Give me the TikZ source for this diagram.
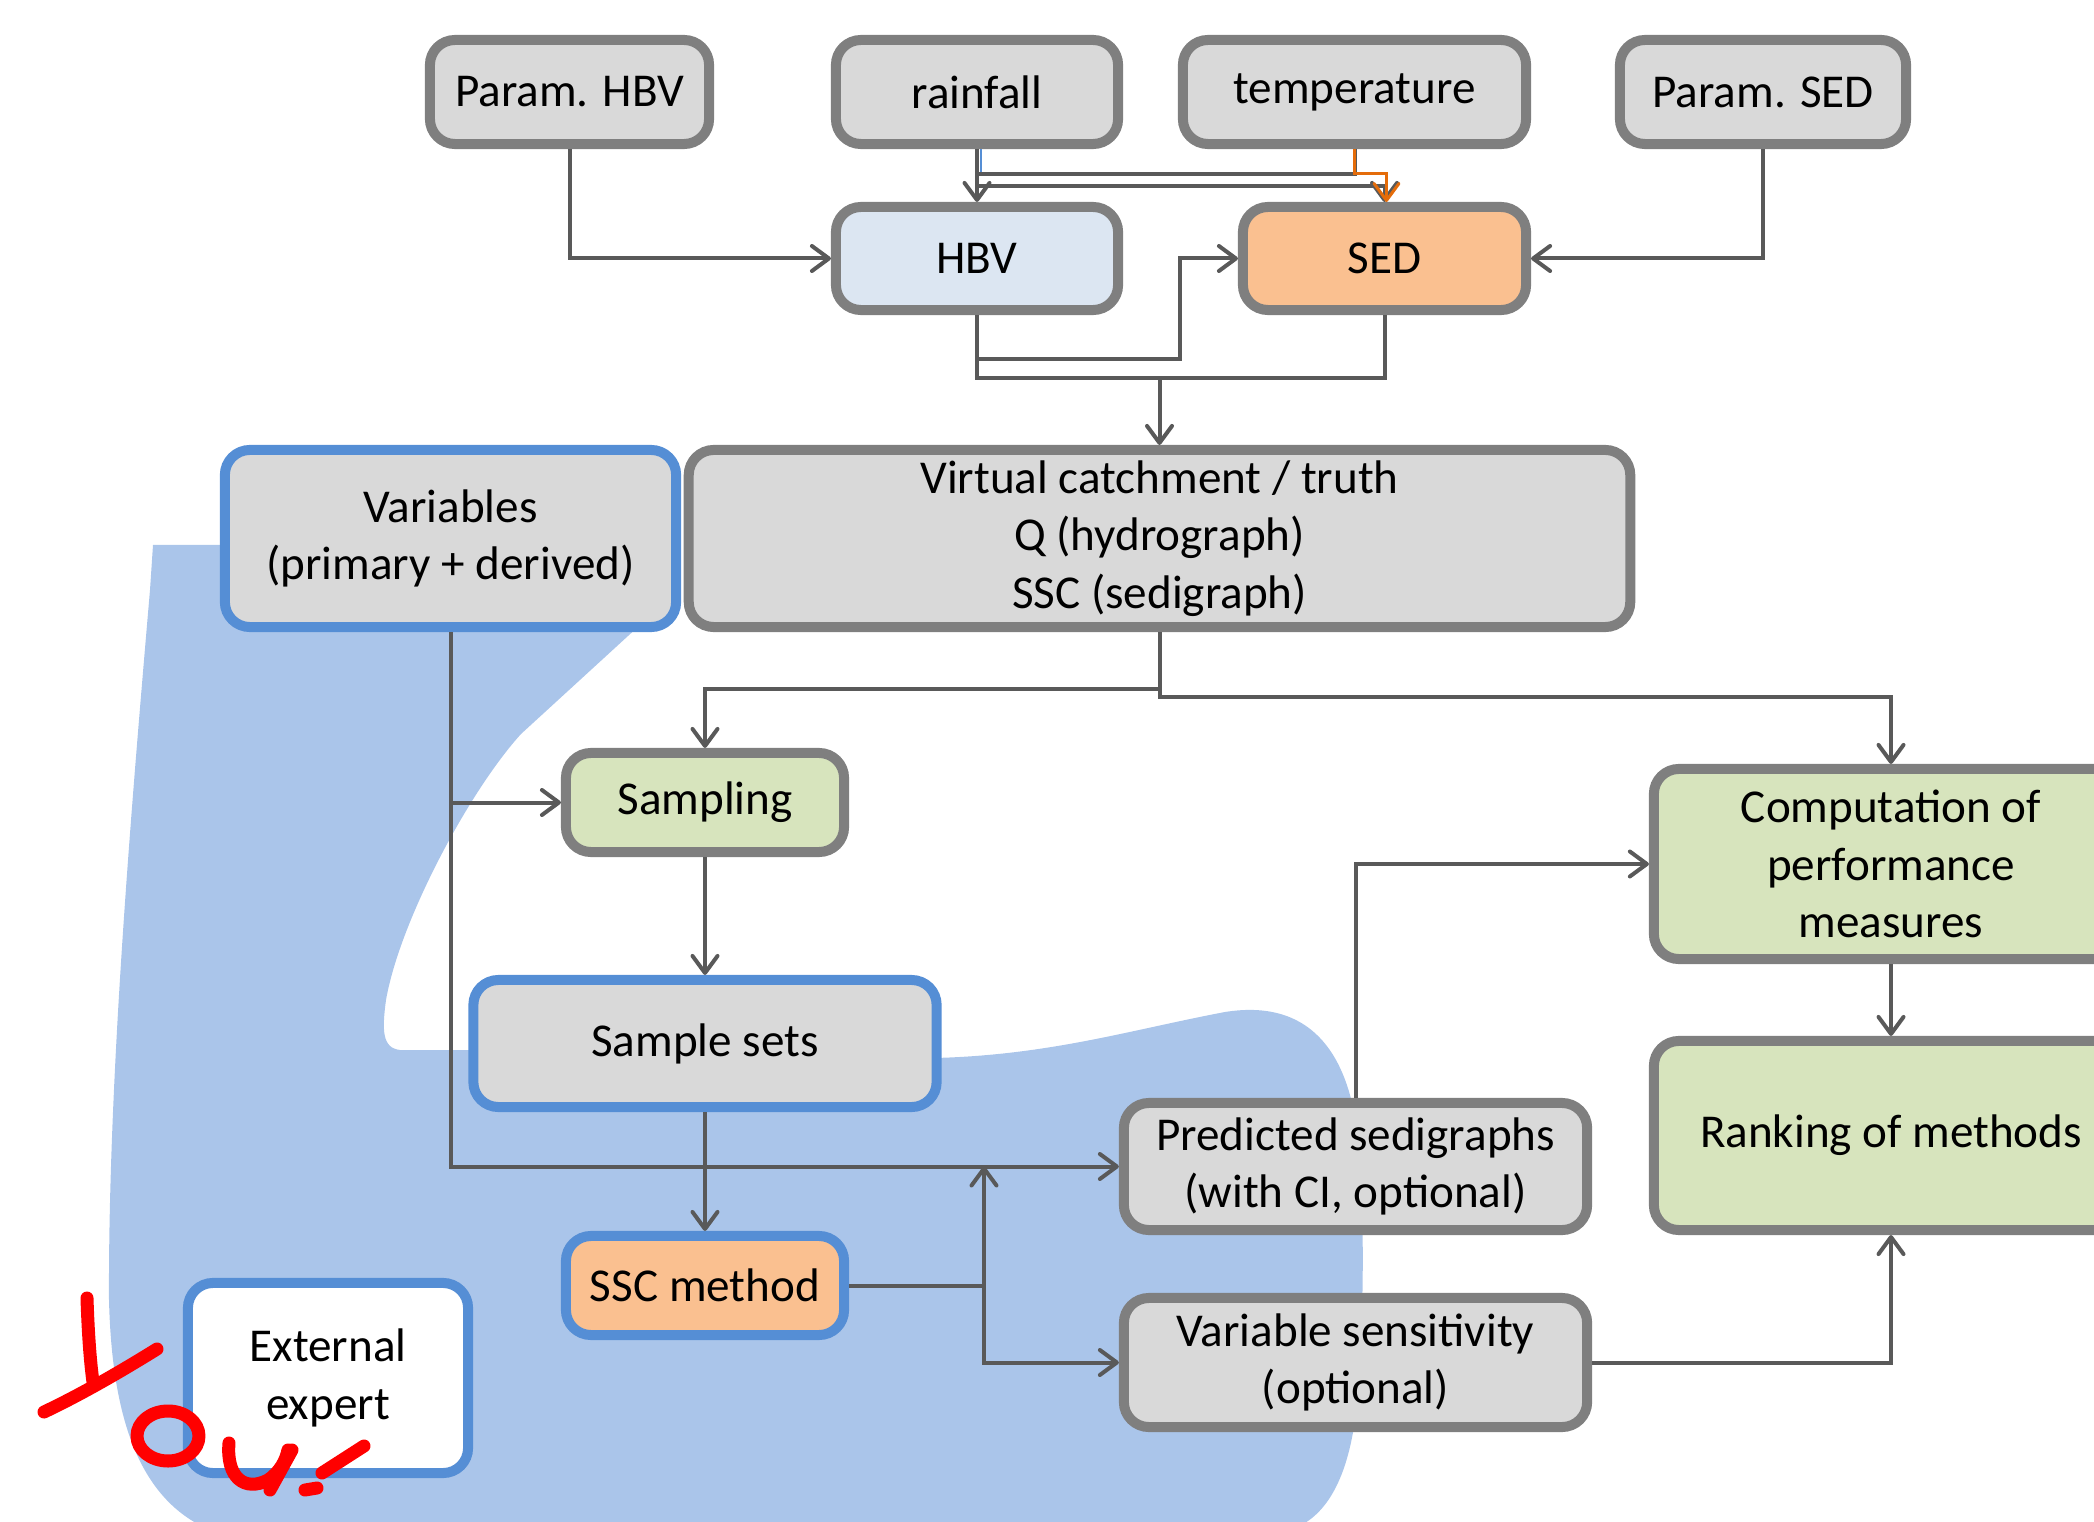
\documentclass[tikz,border=0pt]{standalone}
\usepackage{fontspec}
\setmainfont{Carlito}
\usetikzlibrary{arrows.meta}
\definecolor{boxgray}{HTML}{7F7F7F}
\definecolor{boxfill}{HTML}{D9D9D9}
\definecolor{boxblue}{HTML}{558ED5}
\definecolor{hbvfill}{HTML}{DCE6F2}
\definecolor{sedfill}{HTML}{FAC090}
\definecolor{greenfill}{HTML}{D7E4BD}
\definecolor{linkgray}{HTML}{595959}
\definecolor{linkorange}{HTML}{E46C0A}
\definecolor{blobblue}{HTML}{AAC5EA}
\newcommand{\boxfont}{\fontsize{13.4}{16.3}\selectfont}

\begin{document}
\begin{tikzpicture}[
  x=0.01cm,
  y=-0.01cm,
  every node/.style={font=\boxfont, text=black},
  box/.style={draw=boxgray, fill=boxfill, line width=0.1cm,
    rounded corners=0.25cm, align=center, inner sep=0pt},
  bluebox/.style={box, draw=boxblue},
  boxsize/.style 2 args={minimum width=#1cm, minimum height=#2cm},
  conn/.style={linkgray, line width=0.04cm,
    -{Straight Barb[length=0.17cm, width=0.25cm, round]}},
  link/.style={linkgray, line width=0.04cm},
  orangelink/.style={conn, linkorange, line width=0.03cm},
  bluelink/.style={boxblue, line width=0.02cm},
  you/.style={red, line width=0.13cm, line cap=round, line join=round}
]
  \useasboundingbox (0,0) rectangle (2094,1522);

  % ================= the shaded region behind the lower part =============
  \fill[blobblue] (153,545) -- (650,545) -- (650,615) -- (640,625)
    -- (521,734) .. controls (470,790) and (400,920) .. (386,1000)
    .. controls (382,1030) and (382,1048) .. (400,1050) -- (935,1050)
    -- (935,1058) .. controls (1050,1055) and (1130,1030) .. (1225,1012)
    .. controls (1300,1000) and (1345,1040) .. (1357,1130)
    .. controls (1365,1200) and (1365,1330) .. (1355,1420)
    .. controls (1345,1490) and (1320,1520) .. (1290,1530)
    -- (210,1530) .. controls (140,1500) and (112,1420) .. (109,1300)
    .. controls (108,1080) and (132,800) .. (150,590) -- cycle;

  % ================= boxes ==============================================
  \node[box, boxsize={2.79}{1.04}] (parhbv) at (569.5,92) {Param. HBV};
  \node[box, boxsize={2.82}{1.04}] (rainfall) at (977,92) {rainfall};
  \node[box, boxsize={3.43}{1.04}] (temperature) at (1354.5,92) {temperature};
  \node[box, boxsize={2.86}{1.04}] (parsed) at (1763,92) {Param. SED};

  \node[box, fill=hbvfill, boxsize={2.82}{1.03}] (hbv) at (977,258.5) {HBV};
  \node[box, fill=sedfill, boxsize={2.83}{1.03}] (sed) at (1384.5,258.5) {SED};

  \node[bluebox, boxsize={4.51}{1.77}] (vars) at (450.5,538.5)
    {Variables\\(primary + derived)};
  \node[box, boxsize={9.41}{1.77}] (virtual) at (1159.5,538.5)
    {Virtual catchment / truth\\Q (hydrograph)\\SSC (sedigraph)};

  \node[box, fill=greenfill, boxsize={2.78}{0.99}] (sampling) at (705,802.5) {Sampling};
  \node[box, fill=greenfill, boxsize={4.74}{1.90}] (comp) at (1891,864)
    {Computation of\\performance\\measures};
  \node[bluebox, boxsize={4.63}{1.27}] (samplesets) at (705,1043.5) {Sample sets};
  \node[box, boxsize={4.63}{1.27}] (predicted) at (1355.5,1166.5)
    {Predicted sedigraphs\\(with CI, optional)};
  \node[box, fill=greenfill, boxsize={4.74}{1.89}] (ranking) at (1891,1135.5)
    {Ranking of methods};
  \node[bluebox, fill=sedfill, boxsize={2.78}{0.99}] (ssc) at (705,1285.5) {SSC method};
  \node[box, boxsize={4.63}{1.29}] (varsens) at (1355.5,1362.5)
    {Variable sensitivity\\(optional)};
  \node[bluebox, fill=white, boxsize={2.80}{1.90}] (expert) at (328,1378)
    {External\\expert};

  % ================= connectors =========================================
  \coordinate (tjoin) at (0,174);
  \coordinate (rjoin) at (0,186);
  \coordinate (hsjog) at (1180,359);
  \coordinate (merge) at (1159.5,378);
  \coordinate (sjunc) at (984,1166.5);

  \draw[conn] (parhbv.south) |- (hbv.west);
  \draw[conn] (parsed.south) |- (sed.east);
  \draw[bluelink] ([xshift=0.035cm]rainfall.south) -- ++(0,27);
  \draw[conn] (temperature.south) -- (temperature.south |- tjoin) -| (hbv.north);
  \draw[conn] (rainfall.south) -- (rainfall.south |- rjoin) -| (sed.north);
  \draw[orangelink] (temperature.south) -- (temperature.south |- tjoin)
    -| ([xshift=0.02cm]sed.north);

  \draw[conn] (hbv.south) |- (hsjog) |- (sed.west);
  \draw[conn] (hbv.south) |- (merge) -- (virtual.north);
  \draw[link] (sed.south) |- (merge);

  \draw[conn] (virtual.south) -- ++(0,57) -| (sampling.north);
  \draw[conn] (virtual.south) -- ++(0,65) -| (comp.north);

  \draw[conn] (vars.south) |- (sampling.west);
  \draw[conn] (vars.south) |- (predicted.west);
  \draw[conn] (sampling) -- (samplesets);
  \draw[conn] (samplesets) -- (ssc);
  \draw[conn] (ssc.east) -| (sjunc);
  \draw[conn] (sjunc) |- (varsens.west);

  \draw[conn] (predicted.north) |- (comp.west);
  \draw[conn] (comp) -- (ranking);
  \draw[conn] (varsens.east) -| (ranking.south);

  % ================= handwritten note ===================================
  \draw[you] (87,1298) .. controls (88,1330) and (90,1360) .. (93,1382);
  \draw[you] (157,1349) .. controls (120,1372) and (80,1395) .. (44,1412);
  \draw[you] (168,1436) ellipse [x radius=31, y radius=25];
  \draw[you] (229,1443) .. controls (226,1478) and (245,1492) .. (268,1480)
    .. controls (280,1472) and (286,1460) .. (288,1450);
  \draw[you] (292,1450) -- (270,1490);
  \draw[you] (364,1446) -- (322,1473);
  \draw[you] (305,1490) -- (317,1488);
\end{tikzpicture}
\end{document}
